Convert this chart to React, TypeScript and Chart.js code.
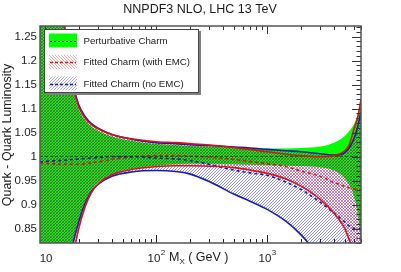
import React, { useEffect, useRef } from "react";
import { Chart, registerables } from "chart.js";
Chart.register(...registerables);

const FONT = '"Liberation Sans", Arial, Helvetica, sans-serif';

const chartTitle = "NNPDF3 NLO, LHC 13 TeV";
const yAxisTitle = "Quark - Quark Luminosity";
const xAxisTitleMain = "M";
const xAxisTitleSub = "X";
const xAxisTitleRest = " ( GeV )";
const legendLabels = ["Perturbative Charm", "Fitted Charm (with EMC)", "Fitted Charm (no EMC)"];

const yTickValues = [0.85, 0.9, 0.95, 1, 1.05, 1.1, 1.15, 1.2, 1.25];
const xTickValues = [10, 100, 1000];
const xTickBases = ["10", "10", "10"];
const xTickExps = ["", "2", "3"];

const masses = [9, 10, 12, 14, 16, 18, 20, 23, 26, 30, 40, 60, 100, 150, 200, 300, 500, 700, 1000, 1500, 2000, 3000, 4000, 5000, 5500, 6000, 6500, 7000];

const pertUp = [1.70, 1.55, 1.38, 1.29, 1.215, 1.138, 1.10, 1.076, 1.063, 1.054, 1.042, 1.033, 1.026, 1.024, 1.022, 1.021, 1.019, 1.018, 1.017, 1.017, 1.018, 1.021, 1.029, 1.043, 1.054, 1.066, 1.085, 1.11];
const pertLo = [0.40, 0.47, 0.58, 0.68, 0.765, 0.827, 0.866, 0.906, 0.93, 0.946, 0.963, 0.974, 0.981, 0.984, 0.985, 0.985, 0.984, 0.983, 0.982, 0.981, 0.980, 0.978, 0.971, 0.955, 0.94, 0.92, 0.885, 0.82];
const pertMid = [1, 1, 1, 1, 1, 1, 1, 1, 1, 1, 1, 1, 1, 1, 1, 1, 1, 1, 1, 1, 1, 1, 1, 1, 1, 1, 1, 1];

const emcUp = [1.72, 1.57, 1.39, 1.30, 1.225, 1.143, 1.105, 1.080, 1.067, 1.058, 1.046, 1.037, 1.031, 1.029, 1.027, 1.024, 1.019, 1.015, 1.010, 1.005, 1.002, 1.000, 1.002, 1.012, 1.025, 1.055, 1.08, 1.118];
const emcLo = [0.30, 0.37, 0.50, 0.61, 0.72, 0.795, 0.848, 0.896, 0.924, 0.943, 0.962, 0.973, 0.979, 0.981, 0.981, 0.980, 0.977, 0.972, 0.965, 0.953, 0.939, 0.911, 0.882, 0.85, 0.826, 0.80, 0.77, 0.74];
const emcMid = [0.987, 0.986, 0.985, 0.984, 0.984, 0.984, 0.984, 0.985, 0.987, 0.989, 0.994, 0.999, 1.002, 1.002, 1.001, 0.999, 0.994, 0.990, 0.985, 0.979, 0.970, 0.959, 0.946, 0.938, 0.935, 0.933, 0.931, 0.930];

const noEmcUp = [1.74, 1.59, 1.40, 1.31, 1.232, 1.149, 1.109, 1.083, 1.069, 1.059, 1.046, 1.036, 1.029, 1.027, 1.025, 1.023, 1.020, 1.018, 1.015, 1.012, 1.010, 1.006, 1.003, 1.008, 1.019, 1.035, 1.06, 1.093];
const noEmcLo = [0.35, 0.42, 0.55, 0.66, 0.76, 0.822, 0.862, 0.903, 0.927, 0.942, 0.959, 0.968, 0.971, 0.969, 0.964, 0.948, 0.922, 0.907, 0.890, 0.864, 0.838, 0.79, 0.75, 0.71, 0.69, 0.67, 0.65, 0.63];
const noEmcMid = [0.989, 0.990, 0.991, 0.992, 0.993, 0.994, 0.995, 0.996, 0.997, 0.998, 1.0, 1.0, 0.997, 0.995, 0.992, 0.984, 0.972, 0.966, 0.961, 0.946, 0.932, 0.905, 0.882, 0.864, 0.855, 0.851, 0.850, 0.849];

const RED = "#e01010";
const BLUE = "#1818b8";
const GREEN = "#00ff00";

export default function App() {
  const ref = useRef<HTMLCanvasElement>(null);

  useEffect(() => {
    const canvas = ref.current!;
    const ctx = canvas.getContext("2d")!;
    const mkHatch = (color: string, rising: boolean, p: number) => {
      const c = document.createElement("canvas");
      c.width = p;
      c.height = p;
      const g = c.getContext("2d")!;
      g.fillStyle = color;
      for (let x = 0; x < p; x++) g.fillRect(x, rising ? p - 1 - x : x, 1, 1);
      return ctx.createPattern(c, "repeat")!;
    };
    const redHatch = mkHatch("rgba(255,0,0,0.5)", false, 3);
    const blueHatch = mkHatch("rgba(0,0,255,0.45)", true, 3);
    const redHatchL = mkHatch("rgba(255,60,60,0.45)", false, 3);
    const blueHatchL = mkHatch("rgba(60,60,255,0.45)", true, 3);

    const pts = (ys: number[]) => masses.map((m, i) => ({ x: m, y: ys[i] }));
    const common = { pointRadius: 0, cubicInterpolationMode: "monotone" as const };

    const datasets: any[] = [
      { ...common, data: pts(emcUp), fill: "+1", backgroundColor: redHatch, borderColor: RED, borderWidth: 1.6 },
      { ...common, data: pts(emcLo), fill: false, borderColor: RED, borderWidth: 1.6 },
      { ...common, data: pts(noEmcUp), fill: "+1", backgroundColor: blueHatch, borderColor: BLUE, borderWidth: 1.6 },
      { ...common, data: pts(noEmcLo), fill: false, borderColor: BLUE, borderWidth: 1.6 },
      { ...common, data: pts(pertUp), fill: "+1", backgroundColor: GREEN, borderWidth: 0, borderColor: "rgba(0,0,0,0)" },
      { ...common, data: pts(pertLo), fill: false, borderWidth: 0, borderColor: "rgba(0,0,0,0)" },
      { ...common, data: pts(pertMid), fill: false, borderColor: "rgba(0,70,0,0.8)", borderWidth: 1, borderDash: [3, 2] },
      { ...common, data: pts(noEmcMid), fill: false, borderColor: BLUE, borderWidth: 1.6, borderDash: [3, 3] },
      { ...common, data: pts(emcMid), fill: false, borderColor: RED, borderWidth: 1.6, borderDash: [3, 3] },
    ];

    const xMinorList = () => {
      const out: { v: number; major: boolean }[] = [];
      for (const d of [1, 10, 100, 1000]) for (let k = 1; k <= 9; k++) {
        const v = k * d;
        if (v >= 9 && v <= 7000) out.push({ v, major: k === 1 });
      }
      return out;
    };

    const decor = {
      id: "decor",
      beforeDraw(chart: any) {
        const { ctx: c, chartArea: a, scales } = chart;
        c.save();
        c.strokeStyle = "#222";
        c.lineWidth = 1;
        for (const t of xMinorList()) {
          const px = Math.round(scales.x.getPixelForValue(t.v)) + 0.5;
          const len = t.major ? 8 : 4;
          c.beginPath();
          c.moveTo(px, a.bottom);
          c.lineTo(px, a.bottom - len);
          c.stroke();
        }
        c.restore();
      },
      afterDatasetsDraw(chart: any) {
        const { ctx: c, chartArea: a, scales } = chart;
        c.save();
        c.strokeStyle = "#333";
        c.lineWidth = 1;
        for (const t of xMinorList()) {
          const px = Math.round(scales.x.getPixelForValue(t.v)) + 0.5;
          const len = t.major ? 8 : 4;
          c.beginPath();
          c.moveTo(px, a.top);
          c.lineTo(px, a.top + len);
          c.stroke();
        }
        for (let i = 82; i <= 127; i++) {
          const py = Math.round(scales.y.getPixelForValue(i / 100)) + 0.5;
          const len = i % 5 === 0 ? 9 : 4.5;
          c.beginPath();
          c.moveTo(a.right, py);
          c.lineTo(a.right - len, py);
          c.stroke();
        }
        c.strokeStyle = "#555";
        c.lineWidth = 1.5;
        c.strokeRect(a.left, a.top, a.right - a.left, a.bottom - a.top);
        c.restore();
      },
      afterDraw(chart: any) {
        const { ctx: c, chartArea: a, scales } = chart;
        c.save();
        c.fillStyle = "#1a1a1a";
        c.textBaseline = "middle";
        c.textAlign = "center";
        c.font = `12.5px ${FONT}`;
        c.fillText(chartTitle, 200, 10);

        c.save();
        c.translate(8, 135);
        c.rotate(-Math.PI / 2);
        c.fillText(yAxisTitle, 0, 0);
        c.restore();

        c.textAlign = "left";
        c.textBaseline = "alphabetic";
        xTickValues.forEach((v, i) => {
          const px = scales.x.getPixelForValue(v);
          c.font = `11.5px ${FONT}`;
          const wb = c.measureText(xTickBases[i]).width;
          c.font = `8px ${FONT}`;
          const we = xTickExps[i] ? c.measureText(xTickExps[i]).width : 0;
          const x0 = px - (wb + we) / 2 + (i === 0 ? 1 : 0);
          c.font = `11.5px ${FONT}`;
          c.fillText(xTickBases[i], x0, 261.5);
          if (xTickExps[i]) {
            c.font = `8px ${FONT}`;
            c.fillText(xTickExps[i], x0 + wb + 0.5, 254.5);
          }
        });

        let tx = a.left + 129;
        c.font = `12.5px ${FONT}`;
        c.fillText(xAxisTitleMain, tx, 261);
        tx += c.measureText(xAxisTitleMain).width;
        c.font = `8px ${FONT}`;
        c.fillText(xAxisTitleSub, tx, 263.5);
        tx += c.measureText(xAxisTitleSub).width;
        c.font = `12.5px ${FONT}`;
        c.fillText(xAxisTitleRest, tx, 261);

        const lx = 44, ly = 29, lw = 155, lh = 64;
        c.fillStyle = "#808080";
        c.fillRect(lx + 2, ly + 2, lw, lh);
        c.fillStyle = "#fff";
        c.fillRect(lx, ly, lw, lh);
        c.strokeStyle = "#444";
        c.lineWidth = 1;
        c.strokeRect(lx + 0.5, ly + 0.5, lw - 1, lh - 1);
        const rows = [40.5, 62, 83.5];
        const fills: any[] = [GREEN, redHatchL, blueHatchL];
        const lineCols = ["#003000", RED, BLUE];
        rows.forEach((cy, i) => {
          c.fillStyle = fills[i];
          c.fillRect(49, cy - 7, 28, 14);
          c.save();
          c.strokeStyle = lineCols[i];
          c.lineWidth = i === 0 ? 1 : 1.5;
          c.setLineDash(i === 0 ? [2, 2] : [3, 2]);
          c.beginPath();
          c.moveTo(50, Math.round(cy) + 0.5);
          c.lineTo(76, Math.round(cy) + 0.5);
          c.stroke();
          c.restore();
          c.fillStyle = "#1a1a1a";
          c.font = `9.7px ${FONT}`;
          c.textBaseline = "middle";
          c.fillText(legendLabels[i], 83.5, cy + 0.5);
        });
        c.restore();
      },
    };

    const chart = new Chart(canvas, {
      type: "line",
      data: { datasets },
      options: {
        responsive: false,
        animation: false,
        devicePixelRatio: 1,
        layout: { padding: { left: 0, top: 26, right: 40, bottom: 0 } },
        plugins: {
          legend: { display: false },
          tooltip: { enabled: false },
          filler: { drawTime: "beforeDatasetsDraw", propagate: false },
        } as any,
        scales: {
          x: {
            type: "logarithmic",
            min: 9,
            max: 7000,
            ticks: { display: false },
            grid: { display: false, drawTicks: false },
            border: { display: false },
            afterFit: (s: any) => { s.height = 29; },
          },
          y: {
            type: "linear",
            min: 0.82,
            max: 1.272,
            afterBuildTicks: (s: any) => { s.ticks = yTickValues.map((v) => ({ value: v })); },
            ticks: {
              padding: 3,
              color: "#1a1a1a",
              font: { family: FONT, size: 11.5 },
              callback: (v: any) => String(v),
            },
            grid: { display: false, drawTicks: false },
            border: { display: false },
            afterFit: (s: any) => { s.width = 40; },
          },
        } as any,
      },
      plugins: [decor],
    });
    return () => chart.destroy();
  }, []);

  return (
    <div style={{ position: "absolute", left: 0, top: 0, width: 401, height: 272, background: "#fff" }}>
      <canvas ref={ref} width={401} height={272} style={{ display: "block", width: 401, height: 272 }} />
    </div>
  );
}
